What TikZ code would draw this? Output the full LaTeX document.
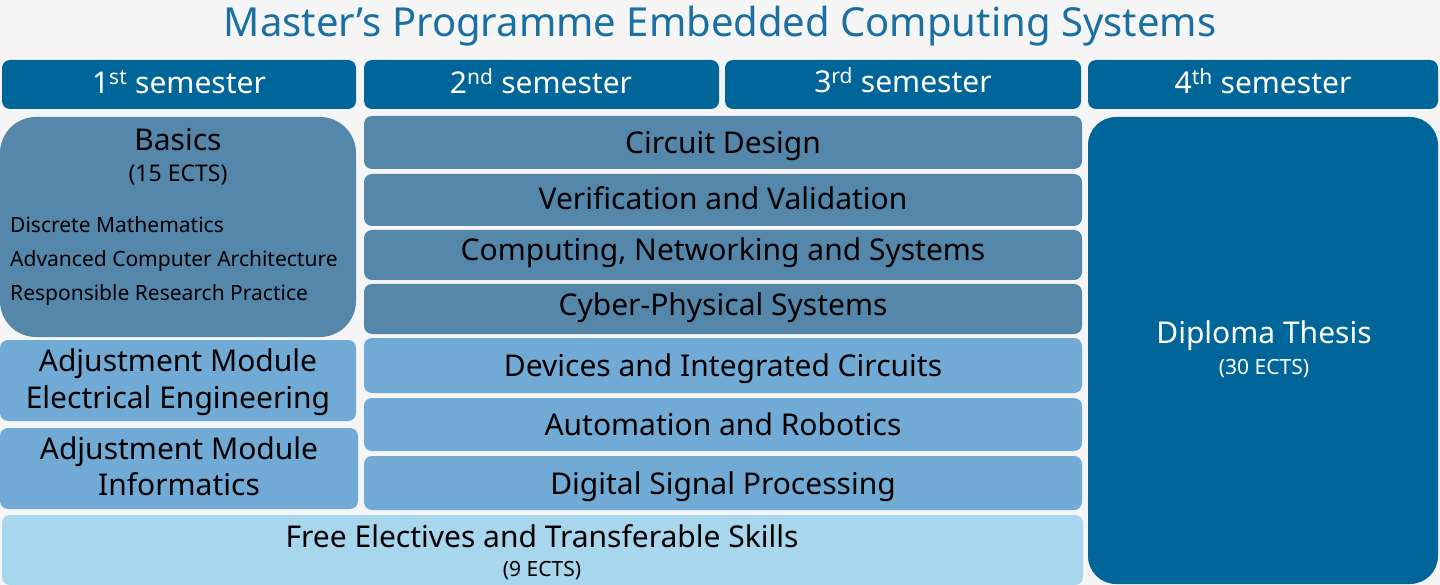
\documentclass[tikz,border=0pt]{standalone}
\usepackage{fontspec}
\setmainfont{Noto Sans}
\definecolor{bg}{HTML}{F5F5F5}
\definecolor{hdr}{HTML}{006699}
\definecolor{dark}{HTML}{5587AB}
\definecolor{mid}{HTML}{71AAD4}
\definecolor{light}{HTML}{A8D6EC}
\definecolor{ttl}{HTML}{1A6FA3}
\newcommand{\fs}[1]{\fontsize{#1}{#1}\selectfont}
\begin{document}
\begin{tikzpicture}[x=1pt,y=-1pt,
  box/.style={rounded corners=8pt},
  big/.style={font=\fs{30}},
  small/.style={font=\fs{21}},
  hdrtxt/.style={font=\fs{30},text=white},
  lbl/.style={inner sep=0pt,anchor=base}]
\fill[bg] (0,0) rectangle (1440,585);
\useasboundingbox (0,0) rectangle (1440,585);
\node[lbl,text=ttl,font=\fs{40}] (title) at (720,37) {Master’s Programme Embedded Computing Systems};
% headers
\fill[hdr,box] (2,60) rectangle (356,109);
\fill[hdr,box] (364,60) rectangle (719,109);
\fill[hdr,box] (725,60) rectangle (1081,109);
\fill[hdr,box] (1088,60) rectangle (1438,109);
\node[lbl,hdrtxt] (h1) at (179,94) {1\textsuperscript{st} semester};
\node[lbl,hdrtxt] (h2) at (541,94) {2\textsuperscript{nd} semester};
\node[lbl,hdrtxt] (h3) at (903,93) {3\textsuperscript{rd} semester};
\node[lbl,hdrtxt] (h4) at (1263,94) {4\textsuperscript{th} semester};
% first column
\fill[dark,rounded corners=36pt] (0,117) rectangle (356,337);
\node[lbl,big] (basics) at (178,151) {Basics};
\node[lbl,font=\fs{23}] (bects) at (178,182) {(15 ECTS)};
\node[lbl,small,anchor=base west] (dm) at (10,233) {Discrete Mathematics};
\node[lbl,small,anchor=base west] (aca) at (10,267) {Advanced Computer Architecture};
\node[lbl,small,anchor=base west] (rrp) at (10,301) {Responsible Research Practice};
\fill[mid,box] (0,340) rectangle (356,421);
\node[lbl,big] (aee1) at (178,371) {Adjustment Module};
\node[lbl,big] (aee2) at (178,408) {Electrical Engineering};
\fill[mid,box] (0,428) rectangle (358,509);
\node[lbl,big] (ainf1) at (179,459) {Adjustment Module};
\node[lbl,big] (ainf2) at (179,495) {Informatics};
% middle column
\fill[dark,box] (364,116) rectangle (1082,169);
\node[lbl,big] (cd) at (723,154) {Circuit Design};
\fill[dark,box] (364,174) rectangle (1082,226);
\node[lbl,big] (vv) at (723,210) {Verification and Validation};
\fill[dark,box] (364,230) rectangle (1082,280);
\node[lbl,big] (cns) at (723,261) {Computing, Networking and Systems};
\fill[dark,box] (364,284) rectangle (1082,334);
\node[lbl,big] (cps) at (723,316) {Cyber-Physical Systems};
\fill[mid,box] (364,338) rectangle (1082,393);
\node[lbl,big] (dic) at (723,376) {Devices and Integrated Circuits};
\fill[mid,box] (364,398) rectangle (1082,451);
\node[lbl,big] (ar) at (723,435) {Automation and Robotics};
\fill[mid,box] (364,456) rectangle (1082,510);
\node[lbl,big] (dsp) at (723,494) {Digital Signal Processing};
% free electives
\fill[light,box] (2,515) rectangle (1083,585);
\node[lbl,big] (fe) at (542,547) {Free Electives and Transferable Skills};
\node[lbl,font=\fs{21}] (fects) at (542,576) {(9 ECTS)};
% thesis
\fill[hdr,rounded corners=28pt] (1088,117) rectangle (1438,584);
\node[lbl,hdrtxt] (dt) at (1264,343) {Diploma Thesis};
\node[lbl,small,text=white] (dects) at (1264,374) {(30 ECTS)};
\end{tikzpicture}
\end{document}
